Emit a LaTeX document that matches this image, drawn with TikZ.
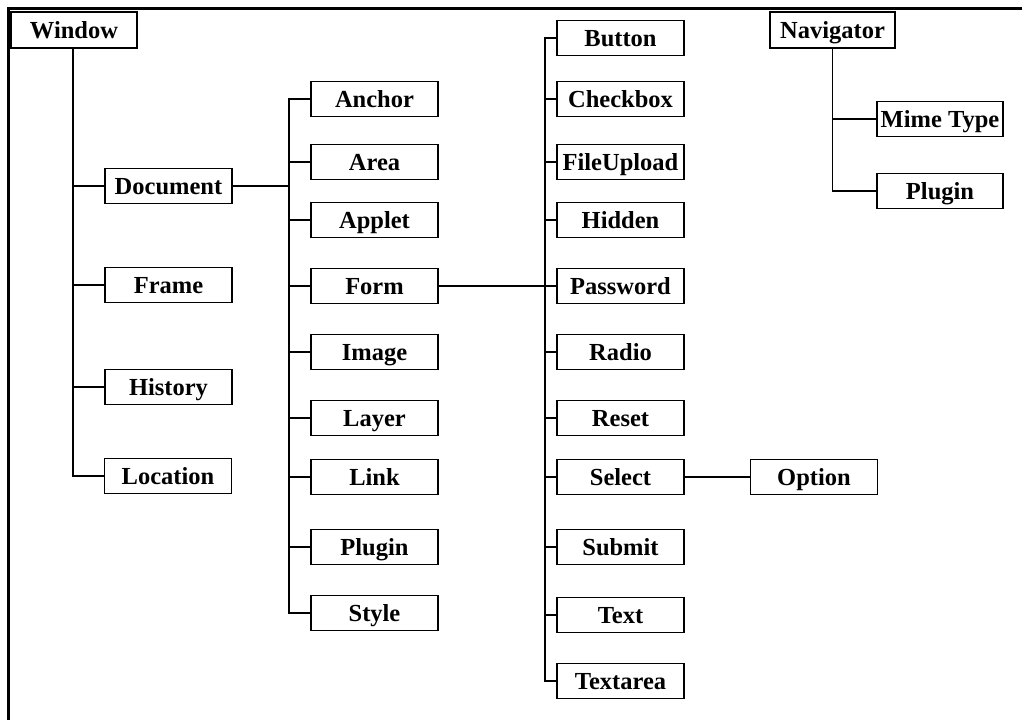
\documentclass[tikz,border=0pt]{standalone}
\usepackage{fontspec}
\setmainfont{Liberation Serif}
\begin{document}
\begin{tikzpicture}[x=1pt,y=-1pt,
  box/.style={draw, line width=1.8pt, minimum width=127pt, minimum height=35pt, inner sep=0pt,
    text height=16pt, text depth=0pt,
    font=\bfseries\fontsize{24.5}{24.5}\selectfont},
  conn/.style={line width=1.8pt}]
\useasboundingbox (0,0) rectangle (1022,720);
\fill[white] (0,0) rectangle (1022,720);
\draw[line width=3pt] (8.5,720) -- (8.5,8.5) -- (1022,8.5);
% column 1
\node[box, minimum width=126pt, minimum height=36pt] (window) at (74,30) {Window};
\node[box] (document) at (168.5,186) {Document};
\node[box] (frame) at (168.5,285) {Frame};
\node[box] (history) at (168.5,387) {History};
\node[box] (location) at (168,476) {Location};
% column 2
\node[box] (anchor) at (374.5,99) {Anchor};
\node[box] (area) at (374.5,162) {Area};
\node[box] (applet) at (374.5,220) {Applet};
\node[box] (form) at (374.5,286) {Form};
\node[box] (image) at (374.5,352) {Image};
\node[box] (layer) at (374.5,418) {Layer};
\node[box] (link) at (374.5,477) {Link};
\node[box] (plugin) at (374.5,547) {Plugin};
\node[box] (style) at (374.5,613) {Style};
% column 3
\node[box] (button) at (620.5,38) {Button};
\node[box] (checkbox) at (620.5,99) {Checkbox};
\node[box] (fileupload) at (620.5,162) {FileUpload};
\node[box] (hidden) at (620.5,220) {Hidden};
\node[box] (password) at (620.5,286) {Password};
\node[box] (radio) at (620.5,352) {Radio};
\node[box] (reset) at (620.5,418) {Reset};
\node[box] (select) at (620.5,477) {Select};
\node[box] (submit) at (620.5,547) {Submit};
\node[box] (text) at (620.5,615) {Text};
\node[box] (textarea) at (620.5,681) {Textarea};
% option
\node[box] (option) at (814,477) {Option};
% navigator
\node[box, minimum width=125pt, minimum height=36pt] (navigator) at (832.5,30) {Navigator};
\node[box, minimum width=126pt] (mimetype) at (940,119) {Mime Type};
\node[box, minimum width=126pt] (nplugin) at (940,191) {Plugin};
% connectors
\coordinate (c1) at (73,48);
\foreach \n in {document,frame,history,location} \draw[conn] (c1) |- (\n.west);
\coordinate (c2) at (289,186);
\draw[conn] (document.east) -- (c2);
\foreach \n in {anchor,area,applet,form,image,layer,link,plugin,style} \draw[conn] (c2) |- (\n.west);
\coordinate (c3) at (545,286);
\draw[conn] (form.east) -- (c3);
\foreach \n in {button,checkbox,fileupload,hidden,password,radio,reset,select,submit,text,textarea} \draw[conn] (c3) |- (\n.west);
\draw[conn] (select.east) -- (option.west);
\foreach \n in {mimetype,nplugin} \draw[conn] (navigator.south) |- (\n.west);
\end{tikzpicture}
\end{document}
